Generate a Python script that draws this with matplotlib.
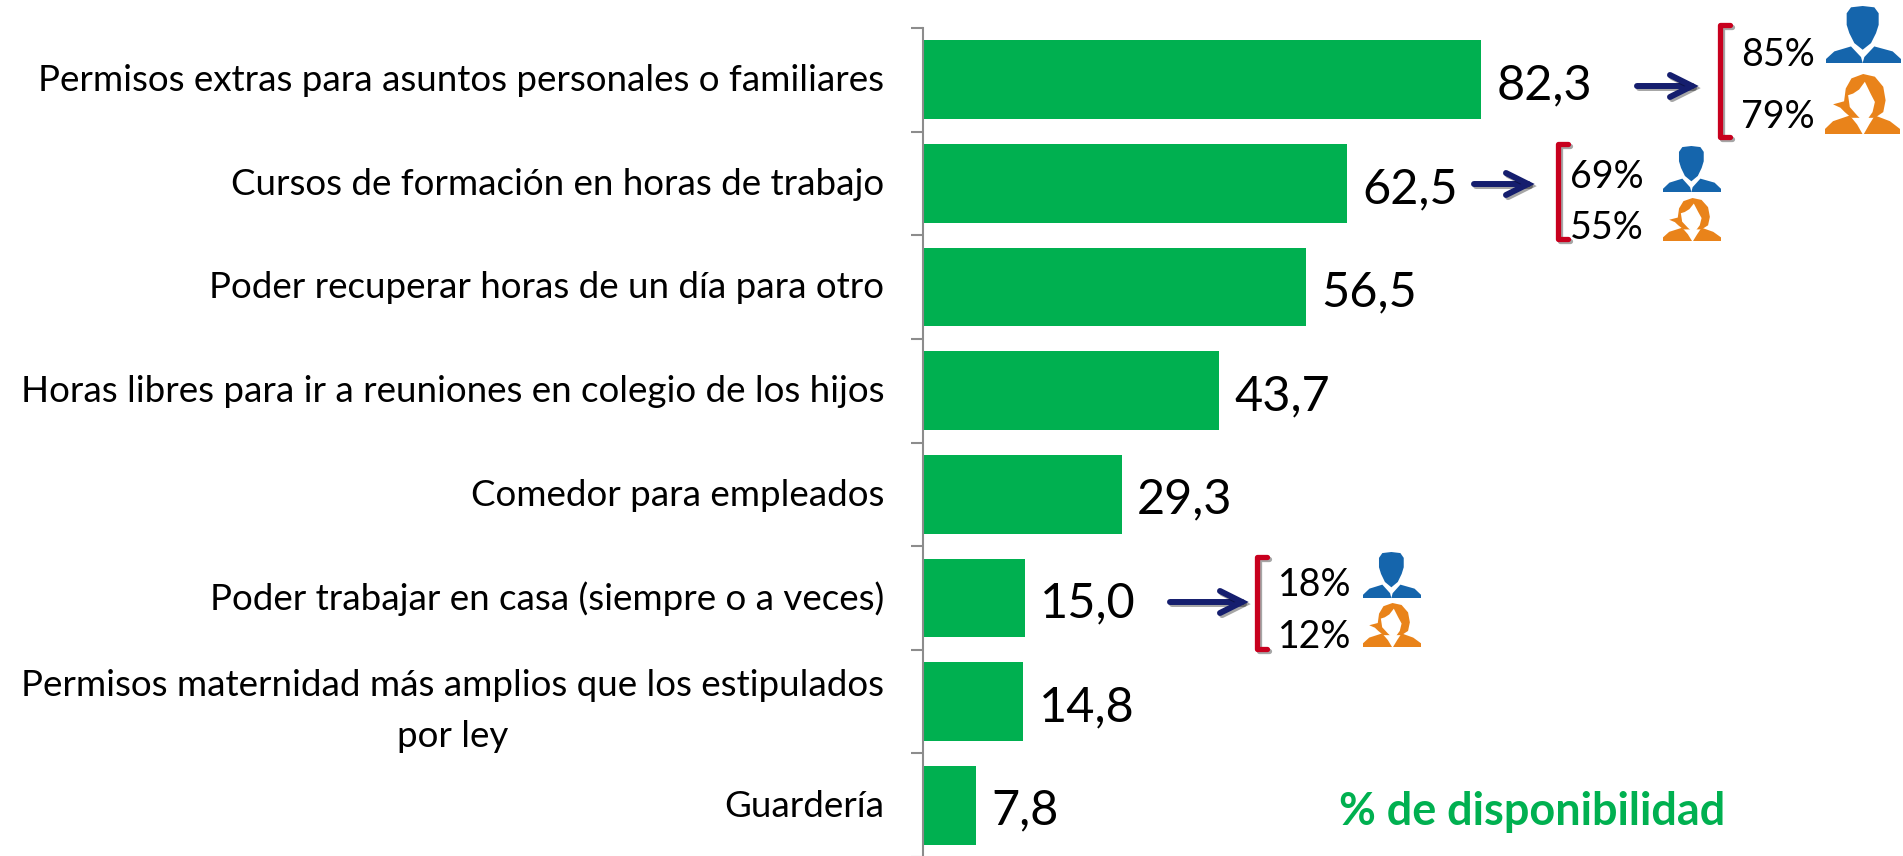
import matplotlib
matplotlib.use('Agg')
import matplotlib.pyplot as plt
import matplotlib.patheffects as pe
from matplotlib.patches import Polygon
from matplotlib.transforms import ScaledTranslation

plt.rcParams['font.family'] = ['Lato', 'DejaVu Sans']

categorias = ['Permisos extras para asuntos personales o familiares',
              'Cursos de formación en horas de trabajo',
              'Poder recuperar horas de un día para otro',
              'Horas libres para ir a reuniones en colegio de los hijos',
              'Comedor para empleados',
              'Poder trabajar en casa (siempre o a veces)',
              'Permisos maternidad más amplios que los estipulados\npor ley',
              'Guardería']
valores = [82.3, 62.5, 56.5, 43.7, 29.3, 15.0, 14.8, 7.8]
hombres = ['85%', '69%', '18%']
mujeres = ['79%', '55%', '12%']

W, H = 1903, 856
VERDE = '#00B050'
AZUL = '#1565AC'
NARANJA = '#E9831A'

fig = plt.figure(figsize=(W / 100, H / 100), dpi=100)

#---------- bar chart ----------#
ax = fig.add_axes([923 / W, -1 / H, (W - 923) / W, (H - 27) / H])
y = list(range(len(valores)))
bars = ax.barh(y, valores, height=0.76, color=VERDE)
ax.set_ylim(len(valores) - 0.5, -0.5)
ax.set_xlim(0, (W - 923) / 6.78)
for s in ['top', 'right', 'bottom']:
    ax.spines[s].set_visible(False)
ax.spines['left'].set_color('#8C8C8C')
ax.spines['left'].set_linewidth(1.5)
ax.set_xticks([])
ax.set_yticks([i - 0.5 for i in range(len(valores) + 1)])
ax.set_yticklabels([])
ax.tick_params(axis='y', which='major', length=9, width=1.5, color='#8C8C8C')
ax.set_yticks(y, minor=True)
ax.set_yticklabels(categorias, minor=True, fontsize=26.5, color='black', ma='center', linespacing=1.65)
ax.tick_params(axis='y', which='minor', length=0, pad=28)
# labels sit a bit higher than the bar centres
for lab in ax.get_yticklabels(minor=True):
    lab.set_transform(lab.get_transform() + ScaledTranslation(0, 1.5 / 72, fig.dpi_scale_trans))
etiquetas = ax.bar_label(bars, labels=[f'{v:.1f}'.replace('.', ',') for v in valores],
                         padding=11, fontsize=35, color='black')
for t in etiquetas:
    t.xyann = (t.xyann[0], -4)

#---------- overlay in pixels for the annotations ----------#
ov = fig.add_axes([0, 0, 1, 1], facecolor='none')
ov.set_xlim(0, W)
ov.set_ylim(H, 0)
ov.axis('off')

sombra = [pe.SimpleLineShadow(offset=(1.5, -1.5), alpha=0.35, shadow_color='black'), pe.Normal()]

# icon outlines (0-1 box)
def norm(pts, x0, y0, w, h):
    return [((px - x0) / w, (py - y0) / h) for px, py in pts]

hombre_cabeza = norm([(790, 18), (825, 22), (838, 40), (838, 75), (830, 100), (815, 130), (790, 150),
                      (765, 130), (750, 100), (742, 75), (742, 40), (755, 22)], 680, 18, 225, 172)
hombre_izq = norm([(680, 190), (680, 178), (705, 155), (755, 140), (785, 172), (790, 190)], 680, 18, 225, 172)
hombre_der = norm([(905, 190), (905, 178), (880, 155), (825, 140), (795, 172), (790, 190)], 680, 18, 225, 172)
mujer_pelo = norm([(790, 222), (825, 230), (850, 260), (857, 300), (850, 335), (825, 352), (755, 352),
                   (735, 335), (722, 322), (700, 312), (733, 303), (738, 265), (755, 235)], 676, 222, 224, 178)
mujer_cara = norm([(778, 268), (795, 245), (812, 280), (825, 305), (818, 335), (795, 368), (772, 345),
                   (750, 320), (745, 285), (760, 280)], 676, 222, 224, 178)
mujer_izq = norm([(676, 400), (676, 385), (700, 362), (750, 345), (772, 372), (788, 400)], 676, 222, 224, 178)
mujer_der = norm([(900, 400), (900, 385), (870, 362), (825, 345), (808, 372), (792, 400)], 676, 222, 224, 178)

def icono(formas, x, y, w, h):
    for pts, color in formas:
        ov.add_patch(Polygon([(x + a * w, y + b * h) for a, b in pts], closed=True,
                             facecolor=color, edgecolor='none'))

# arrow x0, x1, y / bracket x, top, bottom / text x, y hombre, y mujer / icons
grupos = [(1637, 1695, 86, 1720, 25, 137, 1741, 55, 117, (1826, 6, 75, 57), (1825, 74, 75, 60)),
          (1474, 1531, 184, 1558, 144, 239, 1570, 177, 228, (1663, 146, 58, 46), (1663, 198, 58, 43)),
          (1170, 1245, 602, 1257, 557, 649, 1278, 585, 637, (1363, 552, 58, 46), (1363, 603, 58, 44))]

for g, h_txt, m_txt in zip(grupos, hombres, mujeres):
    ax0, ax1, ay, bx, bt, bb, tx, yh, ym, ih, im = g
    ov.plot([ax0, ax1 - 3], [ay, ay], color='#151E6E', lw=4.3, solid_capstyle='round', path_effects=sombra)
    ov.plot([ax1 - 25, ax1 - 3, ax1 - 25], [ay - 11, ay, ay + 11], color='#151E6E', lw=4.3,
            solid_capstyle='round', solid_joinstyle='miter', path_effects=sombra)
    ov.plot([bx + 10, bx, bx, bx + 10], [bt, bt, bb, bb], color='#C8001E', lw=3.8,
            solid_capstyle='round', solid_joinstyle='round', path_effects=sombra)
    ov.text(tx, yh, h_txt, fontsize=27, va='center', ha='left', color='black')
    ov.text(tx, ym, m_txt, fontsize=27, va='center', ha='left', color='black')
    icono([(hombre_cabeza, AZUL), (hombre_izq, AZUL), (hombre_der, AZUL)], *ih)
    icono([(mujer_pelo, NARANJA), (mujer_izq, NARANJA), (mujer_der, NARANJA), (mujer_cara, 'white')], *im)

ov.text(1339, 812, '% de disponibilidad', fontsize=32.4, fontweight='bold', color=VERDE, va='center', ha='left')

fig.savefig('out.png', dpi=100)
